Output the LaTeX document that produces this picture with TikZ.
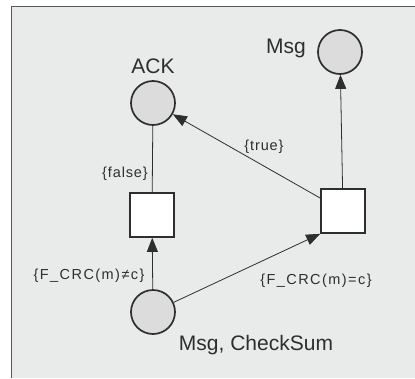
\documentclass[tikz,border=0pt]{standalone}
\usepackage{fontspec}
\setmainfont{Liberation Sans}
\usetikzlibrary{arrows.meta}

\definecolor{paper}{HTML}{E9EAEA}
\definecolor{token}{HTML}{DCDCDC}
\definecolor{ink}{HTML}{2E2E2E}

\tikzset{
    place/.style={circle, draw=ink, fill=token, line width=1.7pt, minimum size=44pt, inner sep=0pt},
    trans/.style={rectangle, draw=ink, fill=white, line width=1.7pt, minimum size=44pt, inner sep=0pt},
    arc/.style={draw=ink, line width=0.8pt, -{Triangle[length=14pt, width=11pt]}},
    big/.style={text=ink, font=\fontsize{21}{24}\selectfont},
    small/.style={text=ink, font=\fontsize{14.5}{17}\selectfont\addfontfeatures{LetterSpace=6}},
    wide/.style={small, font=\fontsize{14.5}{17}\selectfont\addfontfeatures{LetterSpace=10}}
}

\begin{document}
\begin{tikzpicture}[x=1pt, y=-1pt]
    \useasboundingbox (0, 0) rectangle (415, 378);
    \fill[white] (0, 0) rectangle (415, 378);
    \fill[paper] (11, 6) rectangle (415, 378);
    \draw[ink!80, line width=0.9pt] (415, 6) -- (11, 6) -- (11, 378);

    \node[place] (ack) at (153, 103) {};
    \node[place] (msg) at (340, 52) {};
    \node[place] (in) at (153, 312) {};
    \node[trans] (fail) at (152, 215) {};
    \node[trans] (ok) at (343, 211) {};

    \node[big] (ackl) at (153, 66) {ACK};
    \node[big] (msgl) at (286, 48) {Msg};
    \node[big] (inl) at (256, 345) {Msg, CheckSum};

    \draw[arc] (in) -- (fail);
    \draw[arc] (in) -- (ok.south west);
    \draw[ink, line width=0.8pt] (fail) -- (ack);
    \draw[arc] (ok) -- (ack);
    \draw[arc] (ok) -- (msg);

    \node[small] (l1) at (125, 174) {\{false\}};
    \node[small] (l2) at (264, 147) {\{true\}};
    \node[wide, anchor=east] (l3) at (148, 276) {\{F\_CRC(m)≠c\}};
    \node[wide] (l4) at (316, 281) {\{F\_CRC(m)=c\}};
\end{tikzpicture}
\end{document}
